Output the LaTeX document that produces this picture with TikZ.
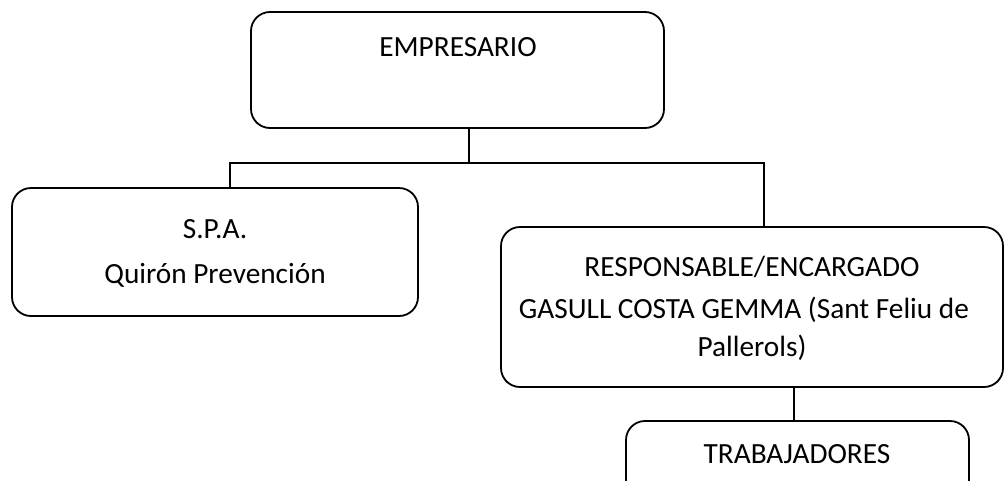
\documentclass[tikz,border=0pt]{standalone}
\usepackage{fontspec}
\setmainfont{Carlito}
\begin{document}
\begin{tikzpicture}[x=1pt,y=-1pt,
  orgbox/.style={draw, rounded corners=19pt, line width=1.8pt, inner sep=0pt, outer sep=0pt},
  link/.style={line width=1.5pt},
  lbl/.style={font=\fontsize{29.3}{36}\selectfont, anchor=base, inner sep=0pt}]
\clip (0,0) rectangle (1005,480);
\fill[white] (0,0) rectangle (1005,480);
% boxes
\node[orgbox, minimum width=413pt, minimum height=116pt] (emp) at (457.5,70) {};
\node[orgbox, minimum width=406pt, minimum height=128pt] (spa) at (215,252) {};
\node[orgbox, minimum width=502pt, minimum height=160pt] (resp) at (752,307) {};
\node[orgbox, minimum width=343pt, minimum height=84pt] (trab) at (797.5,463) {};
% texts
\node[lbl] (tEmp) at (458,56) {EMPRESARIO};
\node[lbl] (tSpa1) at (215,238) {S.P.A.};
\node[lbl] (tSpa2) at (215,283) {Quirón Prevención};
\node[lbl] (tResp1) at (752,276) {RESPONSABLE/ENCARGADO};
\node[lbl] (tResp2) at (744,318) {GASULL COSTA GEMMA (Sant Feliu de};
\node[lbl] (tResp3) at (752,356) {Pallerols)};
\node[lbl] (tTrab) at (797,463) {TRABAJADORES};
% connectors
\coordinate (j) at (469,163);
\coordinate (jl) at (230,163);
\coordinate (jr) at (764,163);
\coordinate (k) at (794,404);
\draw[link] (emp.south -| j) -- (j);
\draw[link] (spa.north -| jl) -- (jl) -- (jr) -- (resp.north -| jr);
\draw[link] (resp.south -| k) -- (trab.north -| k);
\end{tikzpicture}
\end{document}
